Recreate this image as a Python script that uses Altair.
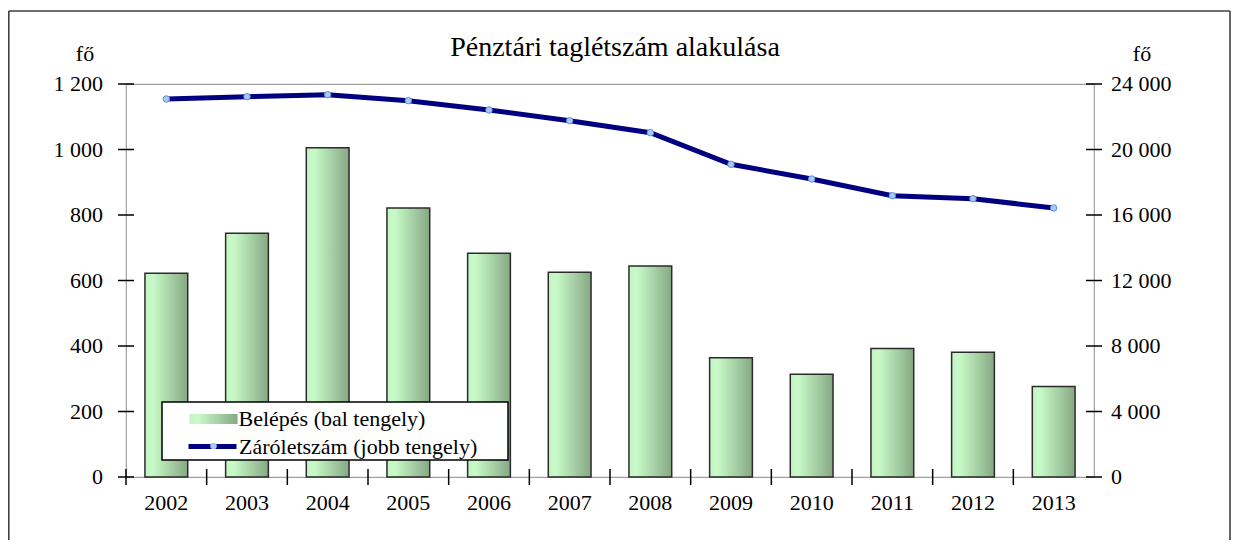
import altair as alt
import pandas as pd

# ---- data ----
years = ["2002", "2003", "2004", "2005", "2006", "2007",
         "2008", "2009", "2010", "2011", "2012", "2013"]
belepes = [622, 744, 1005, 821, 683, 625, 644, 364, 314, 392, 381, 276]
zaro = [23084, 23226, 23348, 22981, 22412, 21760, 21027, 19096, 18199, 17179, 16996, 16428]
left_ticks = [0, 200, 400, 600, 800, 1000, 1200]
left_tick_labels = ["0", "200", "400", "600", "800", "1 000", "1 200"]
right_ticks = [0, 4000, 8000, 12000, 16000, 20000, 24000]
right_tick_labels = ["0", "4 000", "8 000", "12 000", "16 000", "20 000", "24 000"]
series_bar = "Belépés (bal tengely)"
series_line = "Záróletszám (jobb tengely)"
title_text = ["Pénztári taglétszám alakulása"]
unit_label = ["fő"]

df = pd.DataFrame({"year": years, "belepes": belepes, "zaro": zaro,
                   "s1": series_bar, "s2": series_line, "s3": "pont"})
lt_df = pd.DataFrame({"v": left_ticks, "lab": left_tick_labels})
rt_df = pd.DataFrame({"v": right_ticks, "lab": right_tick_labels})
one_df = pd.DataFrame({"k": [0]})
title_df = pd.DataFrame({"t": title_text})
unit_df = pd.DataFrame({"t": unit_label})

W, H = 968, 393
FONT = "Liberation Serif"
FS = 22

yL_scale = alt.Scale(domain=[0, 1200], nice=False)
yR_scale = alt.Scale(domain=[0, 24000], nice=False)
x_scale = alt.Scale(paddingInner=0, paddingOuter=0)

grad = alt.Gradient(
    gradient="linear", x1=0, x2=1, y1=0, y2=0,
    stops=[alt.GradientStop(color="#c4f4c4", offset=0),
           alt.GradientStop(color="#c8fac8", offset=0.18),
           alt.GradientStop(color="#86a884", offset=1)])

bars = alt.Chart(df).mark_bar(
    width=alt.RelativeBandSize(0.53), fill=grad, stroke="#2b2b2b", strokeWidth=1.5
).encode(
    x=alt.X("year:N", sort=years, scale=x_scale,
            axis=alt.Axis(title=None, tickBand="extent", labels=False)),
    y=alt.Y("belepes:Q", scale=yL_scale,
            axis=alt.Axis(values=left_ticks, title=None, labels=False)),
    opacity=alt.Opacity("s1:N", scale=alt.Scale(domain=[series_bar], range=[1]),
                        legend=alt.Legend(title=None, orient="none", legendX=62.5, legendY=310,
                                          symbolType="M-1,-0.21H1V0.21H-1Z", symbolSize=2304,
                                          symbolFillColor="#a8d6a6", symbolStrokeColor="#222222",
                                          symbolStrokeWidth=1.2, symbolOpacity=1,
                                          labelFont=FONT, labelFontSize=FS, labelColor="black",
                                          labelOffset=0, labelLimit=400, padding=0)),
)

legend_box = alt.Chart(one_df).mark_rect(fill="white", stroke="black", strokeWidth=1.5).encode(
    x=alt.value(36), x2=alt.value(382), y=alt.value(318), y2=alt.value(376))

# cross-shaped tick marks (Excel style), placed through the scales
rule_l = alt.Chart(lt_df).mark_rule(color="black", strokeWidth=1.5).encode(
    y=alt.Y("v:Q", scale=yL_scale, axis=None), x=alt.value(-8), x2=alt.value(8))
rule_r = alt.Chart(lt_df).mark_rule(color="black", strokeWidth=1.5).encode(
    y=alt.Y("v:Q", scale=yL_scale, axis=None), x=alt.value(W - 8), x2=alt.value(W + 8))
rule_x = alt.Chart(df).mark_rule(color="black", strokeWidth=1.5).encode(
    x=alt.X("year:N", sort=years, bandPosition=0, axis=None),
    y=alt.value(H - 8), y2=alt.value(H + 8))

# tick labels as text through the scales
lab_l = alt.Chart(lt_df).mark_text(
    font=FONT, fontSize=FS, color="black", align="right", baseline="alphabetic", dy=7
).encode(y=alt.Y("v:Q", scale=yL_scale, axis=None), x=alt.value(-23), text="lab:N")
lab_x = alt.Chart(df).mark_text(
    font=FONT, fontSize=FS, color="black", align="center", baseline="alphabetic"
).encode(x=alt.X("year:N", sort=years, axis=None), y=alt.value(H + 33), text="year:N")
unit_l = alt.Chart(unit_df).mark_text(
    font=FONT, fontSize=FS, color="black", align="center", baseline="alphabetic"
).encode(x=alt.value(-41), y=alt.value(-23), text="t:N")
unit_r = alt.Chart(unit_df).mark_text(
    font=FONT, fontSize=FS, color="black", align="center", baseline="alphabetic"
).encode(x=alt.value(W + 48), y=alt.value(-23), text="t:N")

# outer frame: left, top, right edges (bottom edge lies below the visible page)
frame_l = alt.Chart(one_df).mark_rule(color="#404040", strokeWidth=1.6).encode(
    x=alt.value(-117.2), y=alt.value(-73), y2=alt.value(H + 63))
frame_t = alt.Chart(one_df).mark_rule(color="#404040", strokeWidth=1.6).encode(
    x=alt.value(-117.2), x2=alt.value(1104), y=alt.value(-73))
frame_r = alt.Chart(one_df).mark_rule(color="#404040", strokeWidth=1.6).encode(
    x=alt.value(1104), y=alt.value(-73), y2=alt.value(H + 63))
anchor = alt.Chart(one_df).mark_rule(opacity=0, strokeWidth=0.1).encode(
    x=alt.value(0), x2=alt.value(1), y=alt.value(-76))

title_mark = alt.Chart(title_df).mark_text(
    font=FONT, fontSize=28, color="black", align="center", baseline="alphabetic"
).encode(text="t:N", x=alt.value(489), y=alt.value(-28))

line = alt.Chart(df).mark_line(strokeWidth=5).encode(
    x=alt.X("year:N", sort=years, axis=None),
    y=alt.Y("zaro:Q", scale=yR_scale,
            axis=alt.Axis(orient="right", values=right_ticks, title=None, labels=False)),
    stroke=alt.Stroke("s2:N", scale=alt.Scale(domain=[series_line], range=["#000080"]),
                      legend=alt.Legend(title=None, orient="none", legendX=60, legendY=336,
                                        symbolType="stroke", symbolSize=2304,
                                        symbolStrokeWidth=5, labelFont=FONT, labelFontSize=FS,
                                        labelColor="black", labelOffset=0, labelLimit=400,
                                        padding=0)),
)

points = alt.Chart(df).mark_point(
    filled=True, fill="#a9c9f2", stroke="#5a8fd8", strokeWidth=1, size=42, opacity=1
).encode(
    x=alt.X("year:N", sort=years, axis=None),
    y=alt.Y("zaro:Q", scale=yR_scale, axis=None),
    shape=alt.Shape("s3:N", scale=alt.Scale(domain=["pont"], range=["circle"]),
                    legend=alt.Legend(title=None, orient="none", legendX=82.5, legendY=357,
                                      labelExpr="''", symbolFillColor="#a9c9f2",
                                      symbolStrokeColor="#5a8fd8", symbolStrokeWidth=1,
                                      symbolSize=42, padding=0)),
)

lab_r = alt.Chart(rt_df).mark_text(
    font=FONT, fontSize=FS, color="black", align="left", baseline="alphabetic", dy=7
).encode(y=alt.Y("v:Q", scale=yR_scale, axis=None), x=alt.value(W + 17), text="lab:N")

left_group = alt.layer(bars, legend_box, rule_l, rule_r, rule_x, lab_l, lab_x,
                       unit_l, unit_r, frame_l, frame_t, frame_r, anchor, title_mark)
right_group = alt.layer(line, points, lab_r)

chart = alt.layer(left_group, right_group).resolve_scale(
    y="independent", stroke="independent", shape="independent", opacity="independent"
).properties(
    width=W, height=H, padding=0,
).configure_axis(
    domainColor="black", domainWidth=1.5, tickColor="black", tickWidth=1.5, tickSize=8,
    grid=False, zindex=1,
).configure_view(stroke="#a0a0a0", strokeWidth=1.2)

chart.save("out.html", embed_options={"renderer": "svg", "actions": False})
